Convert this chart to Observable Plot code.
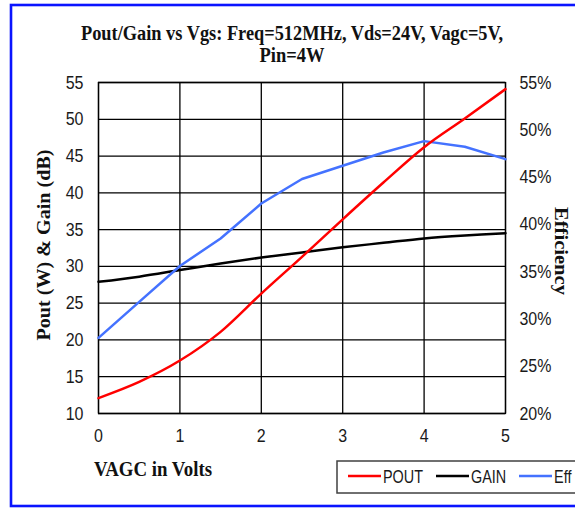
<!DOCTYPE html>
<html><head><meta charset="utf-8">
<script src="https://cdn.jsdelivr.net/npm/d3@7"></script>
<script src="https://cdn.jsdelivr.net/npm/@observablehq/plot@0.6"></script>
<style>body{margin:0;background:#fff}#chart svg{display:block}</style>
</head><body><div id="chart"></div>
<script>
const vagc = [0, 0.5, 1, 1.5, 2, 2.5, 3, 3.5, 4, 4.5, 5];
const pout = [12.1, 14.3, 17.2, 21.1, 26.3, 31.3, 36.4, 41.4, 46.2, 50.1, 54.1];
const gain = [27.9, 28.6, 29.5, 30.4, 31.2, 31.9, 32.6, 33.2, 33.8, 34.2, 34.5];
const eff = [28.0, 31.8, 35.6, 38.5, 42.2, 44.8, 46.2, 47.6, 48.8, 48.2, 46.9];
const xTicks = [0, 1, 2, 3, 4, 5];
const leftTicks = [10, 15, 20, 25, 30, 35, 40, 45, 50, 55];
const effTicks = [20, 25, 30, 35, 40, 45, 50, 55];
const seriesNames = ["POUT", "GAIN", "Eff"];
const seriesColors = ["#ff0000", "#000000", "#4472ff"];
const titleLines = ["Pout/Gain vs Vgs: Freq=512MHz, Vds=24V, Vagc=5V,", "Pin=4W"];
const yLabel = "Pout (W) & Gain (dB)";
const y2Label = "Efficiency";
const xLabel = "VAGC in Volts";

// secondary axis (20%..55%) mapped onto primary (10..55)
const toLeft = e => 10 + (e - 20) * 45 / 35;
const fromLeft = v => 20 + (v - 10) * 35 / 45;

const poutRows = vagc.map((x, i) => ({x, y: pout[i]}));
const gainRows = vagc.map((x, i) => ({x, y: gain[i]}));
const effRows = vagc.map((x, i) => ({x, y: toLeft(eff[i])}));

const sans = "'Liberation Sans', Arial, sans-serif";
const serif = "'Liberation Serif', 'Times New Roman', serif";

const chart = Plot.plot({
  width: 575, height: 508,
  marginLeft: 98, marginRight: 70, marginTop: 82, marginBottom: 95,
  x: {domain: [0, 5]},
  y: {domain: [10, 55]},
  style: {fontFamily: sans, fontSize: "19px", color: "#1a1a1a", background: "#fff"},
  marks: [
    Plot.gridX(xTicks, {stroke: "#000", strokeOpacity: 1, strokeWidth: 1.3}),
    Plot.gridY(leftTicks, {stroke: "#000", strokeOpacity: 1, strokeWidth: 1.3}),
    Plot.frame({stroke: "#000", strokeWidth: 1.3}),
    Plot.axisX(xTicks, {tickSize: 0, tickPadding: 15, label: null, tickFormat: d => String(d)}),
    Plot.axisY(leftTicks, {anchor: "left", tickSize: 0, tickPadding: 15, label: null}),
    Plot.axisY(effTicks.map(toLeft), {anchor: "right", tickSize: 0, tickPadding: 14, label: null,
      tickFormat: d => Math.round(fromLeft(d)) + "%"}),
    Plot.line(gainRows, {x: "x", y: "y", stroke: seriesColors[1], strokeWidth: 2.5, curve: "catmull-rom"}),
    Plot.line(effRows, {x: "x", y: "y", stroke: seriesColors[2], strokeWidth: 2.5}),
    Plot.line(poutRows, {x: "x", y: "y", stroke: seriesColors[0], strokeWidth: 2.5, curve: "monotone-x"})
  ]
});
document.getElementById("chart").append(chart);

function squeeze(el, f) {
  const w = el.getComputedTextLength();
  if (w > 0) { el.setAttribute("textLength", (w * f).toFixed(1)); el.setAttribute("lengthAdjust", "spacingAndGlyphs"); }
}
d3.select(chart).selectAll("g[aria-label$='tick label'] text").each(function() { squeeze(this, 0.84); });

const svg = d3.select(chart);
// outer blue border
svg.append("rect").attr("x", 11).attr("y", 5).attr("width", 620).attr("height", 501)
  .attr("fill", "none").attr("stroke", "#0a14ff").attr("stroke-width", 2.6);

// title
const tLens = [422, 65];
const tY = [40, 62];
titleLines.forEach((t, i) => {
  svg.append("text").text(t).attr("x", 292).attr("y", tY[i]).attr("text-anchor", "middle")
    .attr("font-family", serif).attr("font-weight", "bold").attr("font-size", 20)
    .attr("fill", "#111").attr("textLength", tLens[i]).attr("lengthAdjust", "spacingAndGlyphs");
});
// axis labels
svg.append("text").text(yLabel).attr("transform", "translate(50,245) rotate(-90)")
  .attr("text-anchor", "middle").attr("font-family", serif).attr("font-weight", "bold")
  .attr("font-size", 19).attr("fill", "#111").attr("textLength", 191).attr("lengthAdjust", "spacingAndGlyphs");
svg.append("text").text(y2Label).attr("transform", "translate(555,251) rotate(90)")
  .attr("text-anchor", "middle").attr("font-family", serif).attr("font-weight", "bold")
  .attr("font-size", 19).attr("fill", "#111").attr("textLength", 88).attr("lengthAdjust", "spacingAndGlyphs");
svg.append("text").text(xLabel).attr("x", 94).attr("y", 476).attr("text-anchor", "start")
  .attr("font-family", serif).attr("font-weight", "bold")
  .attr("font-size", 20).attr("fill", "#111").attr("textLength", 118).attr("lengthAdjust", "spacingAndGlyphs");

// legend
svg.append("rect").attr("x", 337).attr("y", 461).attr("width", 300).attr("height", 32)
  .attr("fill", "#fff").attr("stroke", "#404040").attr("stroke-width", 1.5);
const lgX = [348, 436, 519];
seriesNames.forEach((n, i) => {
  svg.append("line").attr("x1", lgX[i]).attr("x2", lgX[i] + 33).attr("y1", 476).attr("y2", 476)
    .attr("stroke", seriesColors[i]).attr("stroke-width", 2.5);
  const t = svg.append("text").text(n).attr("x", lgX[i] + 35).attr("y", 483).attr("text-anchor", "start")
    .attr("font-family", sans).attr("font-size", 18).attr("fill", "#1a1a1a");
  squeeze(t.node(), 0.8);
});
</script></body></html>
